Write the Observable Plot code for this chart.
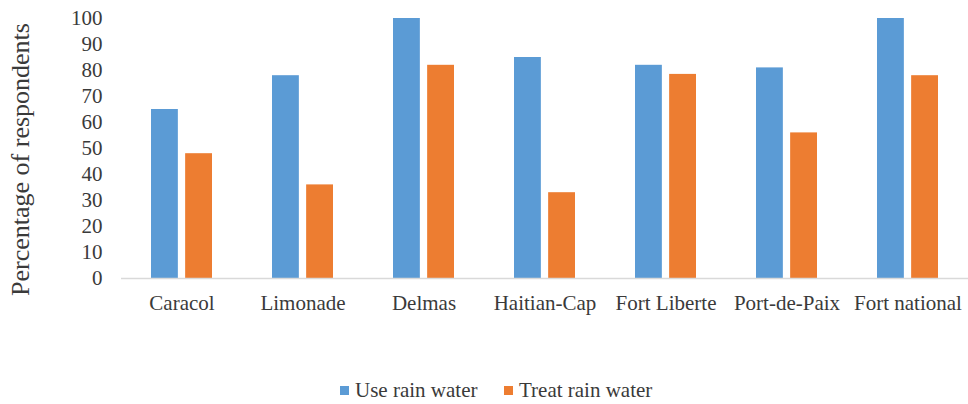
<!DOCTYPE html>
<html>
<head>
<meta charset="utf-8">
<script src="https://cdn.jsdelivr.net/npm/d3@7"></script>
<script src="https://cdn.jsdelivr.net/npm/@observablehq/plot@0.6"></script>
<style>
  html, body { margin: 0; padding: 0; background: #ffffff; }
  #chart { width: 968px; }
  #chart svg, #chart svg text { font-family: "Liberation Serif", "Times New Roman", serif !important; }
  .legend { position: relative; height: 29px; font-family: "Liberation Serif", "Times New Roman", serif; font-size: 21px; line-height: 21px; color: #3a3a3a; }
  .legend .item { position: absolute; top: 5px; display: flex; align-items: center; white-space: nowrap; }
  .legend .sw { width: 9px; height: 9px; margin-right: 6px; }
</style>
</head>
<body>
<div id="chart"></div>
<script>
const categories = ["Caracol", "Limonade", "Delmas", "Haitian-Cap", "Fort Liberte", "Port-de-Paix", "Fort national"];
const seriesNames = ["Use rain water", "Treat rain water"];
const useRainWater = [65, 78, 100, 85, 82, 81, 100];
const treatRainWater = [48, 36, 82, 33, 78.5, 56, 78];
const yTicks = [0, 10, 20, 30, 40, 50, 60, 70, 80, 90, 100];
const yTitle = "Percentage of respondents";
const colors = ["#5B9BD5", "#ED7D31"];

const useData = categories.map((c, i) => ({category: c, series: seriesNames[0], value: useRainWater[i]}));
const treatData = categories.map((c, i) => ({category: c, series: seriesNames[1], value: treatRainWater[i]}));

const textColor = "#3a3a3a";

const chart = Plot.plot({
  width: 968,
  height: 375,
  marginTop: 18,
  marginBottom: 97,
  marginLeft: 121,
  marginRight: 0,
  style: "font-family: 'Liberation Serif', 'Times New Roman', serif; font-size: 21px; color: #3a3a3a; background: #ffffff; overflow: visible;",
  x: {domain: categories, paddingInner: 0.495, paddingOuter: 0.245, label: null},
  y: {domain: [0, 100], label: null},
  color: {domain: seriesNames, range: colors},
  marks: [
    Plot.axisX({tickSize: 0, tickPadding: 17, fontSize: 21, label: null}),
    Plot.axisY({ticks: yTicks, tickSize: 0, tickPadding: 19, fontSize: 21, label: null}),
    Plot.text([yTitle], {text: d => d, frameAnchor: "left", textAnchor: "middle", rotate: -90, dx: -101, dy: 11, fontSize: 26, fill: textColor}),
    Plot.barY(useData, {x: "category", y: "value", fill: "series", insetRight: 34.15}),
    Plot.barY(treatData, {x: "category", y: "value", fill: "series", insetLeft: 34.15}),
    Plot.ruleY([0], {stroke: "#d9d9d9", strokeWidth: 1.5})
  ]
});
document.getElementById("chart").appendChild(chart);

// legend below
const legend = document.createElement("div");
legend.className = "legend";
const lefts = [340, 504];
seriesNames.forEach((s, i) => {
  const item = document.createElement("div");
  item.className = "item";
  item.style.left = lefts[i] + "px";
  const sw = document.createElement("span");
  sw.className = "sw";
  sw.style.background = colors[i];
  const t = document.createElement("span");
  t.textContent = s;
  item.appendChild(sw);
  item.appendChild(t);
  legend.appendChild(item);
});
document.getElementById("chart").appendChild(legend);
</script>
</body>
</html>
